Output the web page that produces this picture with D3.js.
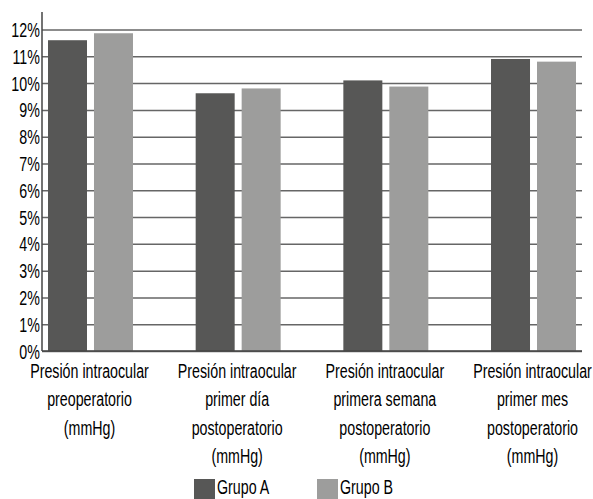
<!DOCTYPE html>
<html>
<head>
<meta charset="utf-8">
<script src="https://cdn.jsdelivr.net/npm/d3@7"></script>
<style>
	body { margin: 0; background: #fff; }
	text { font-family: "Liberation Sans", Arial, sans-serif; fill: #000; }
</style>
</head>
<body>
<div id="chart"></div>
<script>
"use strict";

// categories, one entry per group, split into the printed lines
var categories = [
	["Presión intraocular", "preoperatorio", "(mmHg)"],
	["Presión intraocular", "primer día", "postoperatorio", "(mmHg)"],
	["Presión intraocular", "primera semana", "postoperatorio", "(mmHg)"],
	["Presión intraocular", "primer mes", "postoperatorio", "(mmHg)"]
];
var seriesNames = ["Grupo A", "Grupo B"];
var grupoA = [11.6, 9.62, 10.1, 10.9];
var grupoB = [11.86, 9.8, 9.87, 10.8];
var yTicks = [0, 1, 2, 3, 4, 5, 6, 7, 8, 9, 10, 11, 12];
var seriesColors = ["#575756", "#9d9d9c"];

var chartW = 593, chartH = 499;
var plot = {left: 42, right: 582, top: 29.5, bottom: 351};
var fontSize = 19.5;
var squeeze = "scale(0.73,1)"; // condensed look, no narrow font installed

var svg = d3.select("#chart").append("svg")
	.attr("width", chartW)
	.attr("height", chartH);

var scaleY = d3.scaleLinear()
	.domain([0, 12])
	.range([plot.bottom, plot.top]);

var scaleX = d3.scaleBand()
	.domain(d3.range(categories.length))
	.range([48, 576])
	.paddingInner(0.4245)
	.paddingOuter(0);

var scaleSeries = d3.scaleBand()
	.domain(seriesNames)
	.range([0, scaleX.bandwidth()])
	.paddingInner(0.152);

// gridlines + tick labels
var yAxis = svg.append("g")
	.attr("transform", "translate(" + plot.left + ",0)")
	.call(d3.axisLeft(scaleY)
		.tickValues(yTicks)
		.tickSizeInner(-(plot.right - plot.left))
		.tickSizeOuter(0)
		.tickPadding(3)
		.tickFormat(function(d) { return d + "%"; }));
yAxis.select(".domain").remove();
yAxis.selectAll(".tick line")
	.attr("stroke", "#666")
	.attr("stroke-width", 1.5);
yAxis.selectAll(".tick text")
	.attr("font-size", fontSize)
	.attr("fill", "#000")
	.attr("dy", "0.36em")
	.attr("transform", squeeze)
	.style("font-family", "'Liberation Sans', Arial, sans-serif");

// bars
var data = categories.map(function(c, i) {
	return [grupoA[i], grupoB[i]];
});
var groups = svg.selectAll(".group")
	.data(data)
	.enter().append("g")
	.attr("class", "group")
	.attr("transform", function(d, i) { return "translate(" + scaleX(i) + ",0)"; });
groups.selectAll("rect")
	.data(function(d) { return d; })
	.enter().append("rect")
	.attr("x", function(d, j) { return scaleSeries(seriesNames[j]); })
	.attr("y", function(d) { return scaleY(d); })
	.attr("width", scaleSeries.bandwidth())
	.attr("height", function(d) { return scaleY(0) - scaleY(d); })
	.attr("fill", function(d, j) { return seriesColors[j]; });

// axis lines
svg.append("line")
	.attr("x1", plot.left).attr("x2", plot.left)
	.attr("y1", 12).attr("y2", plot.bottom)
	.attr("stroke", "#444")
	.attr("stroke-width", 1.5);
svg.append("line")
	.attr("x1", plot.left).attr("x2", plot.right)
	.attr("y1", plot.bottom).attr("y2", plot.bottom)
	.attr("stroke", "#444")
	.attr("stroke-width", 1.5);

// category labels
var labels = svg.selectAll(".catlabel")
	.data(categories)
	.enter().append("text")
	.attr("class", "catlabel")
	.attr("text-anchor", "middle")
	.attr("font-size", fontSize)
	.attr("transform", function(d, i) {
		return "translate(" + (scaleX(i) + scaleX.bandwidth() / 2 - 1) + ",378) " + squeeze;
	});
labels.selectAll("tspan")
	.data(function(d) { return d; })
	.enter().append("tspan")
	.attr("x", 0)
	.attr("y", function(d, k) { return k * 28.5; })
	.text(function(d) { return d; });

// legend
var legendX = [194, 317];
var legend = svg.selectAll(".legend")
	.data(seriesNames)
	.enter().append("g")
	.attr("class", "legend")
	.attr("transform", function(d, i) { return "translate(" + legendX[i] + ",479)"; });
legend.append("rect")
	.attr("width", 21)
	.attr("height", 20)
	.attr("fill", function(d, i) { return seriesColors[i]; });
legend.append("text")
	.attr("transform", "translate(23,15) " + squeeze)
	.attr("font-size", fontSize)
	.text(function(d) { return d; });
</script>
</body>
</html>
